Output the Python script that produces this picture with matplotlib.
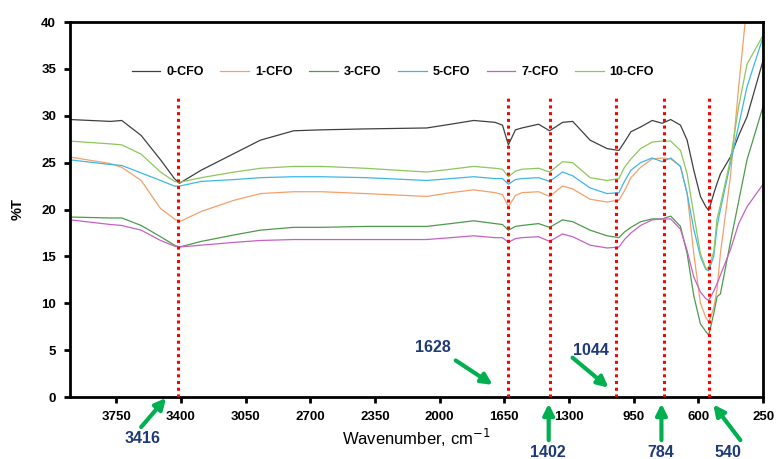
import matplotlib.pyplot as plt

plt.rcParams['font.family'] = ['Liberation Sans', 'DejaVu Sans']

wavenumber = [4000, 3780, 3720, 3615, 3510, 3435, 3408, 3290, 3110, 2970, 2790, 2640,
              2400, 2070, 1940, 1816, 1700, 1660, 1628, 1590, 1555, 1465, 1405, 1335,
              1280, 1186, 1094, 1030, 1000, 965, 913, 850, 796, 750, 697, 661, 625,
              589, 560, 544, 517, 499, 481, 427, 382, 337, 250]

cfo_0 = [29.6, 29.4, 29.5, 27.9, 25.3, 23.3, 22.8, 24.2, 26.0, 27.4, 28.4, 28.5,
         28.6, 28.7, 29.1, 29.5, 29.3, 29.0, 26.9, 28.5, 28.7, 29.1, 28.4, 29.3,
         29.4, 27.4, 26.5, 26.3, 27.2, 28.3, 28.8, 29.5, 29.2, 29.6, 29.0, 27.4, 24.2,
         21.4, 20.3, 19.9, 21.7, 22.8, 23.8, 25.6, 27.9, 29.9, 35.9]
cfo_1 = [25.6, 24.9, 24.5, 23.1, 20.1, 19.0, 18.7, 19.8, 21.0, 21.7, 21.9, 21.9,
         21.7, 21.4, 21.8, 22.1, 21.8, 21.6, 20.3, 21.5, 21.8, 21.9, 21.4, 22.5,
         22.2, 21.1, 20.8, 21.0, 22.0, 23.4, 24.5, 25.4, 25.5, 25.4, 24.6, 21.7, 15.3,
         10.0, 8.5, 8.0, 9.5, 11.5, 15.3, 23.5, 33.1, 42.0, 59.0]
cfo_3 = [19.2, 19.1, 19.1, 18.3, 17.1, 16.2, 16.0, 16.6, 17.3, 17.8, 18.1, 18.1,
         18.2, 18.2, 18.5, 18.8, 18.5, 18.4, 17.8, 18.2, 18.3, 18.5, 18.1, 18.9,
         18.7, 17.8, 17.2, 17.0, 17.6, 18.1, 18.7, 19.0, 19.0, 19.3, 18.2, 15.3, 10.8,
         7.8, 7.0, 6.6, 8.9, 10.7, 11.0, 16.5, 20.9, 25.3, 31.0]
cfo_5 = [25.3, 24.8, 24.7, 23.9, 23.1, 22.5, 22.5, 23.0, 23.2, 23.4, 23.5, 23.5,
         23.4, 23.1, 23.3, 23.5, 23.3, 23.3, 22.7, 23.2, 23.3, 23.4, 23.0, 24.0,
         23.6, 22.3, 21.7, 21.8, 23.0, 24.2, 25.0, 25.5, 25.1, 25.5, 24.6, 21.7, 17.9,
         15.0, 13.6, 13.5, 15.0, 18.2, 20.0, 24.9, 29.0, 33.1, 38.4]
cfo_7 = [18.9, 18.4, 18.3, 17.8, 16.7, 16.1, 16.0, 16.2, 16.5, 16.7, 16.8, 16.8,
         16.8, 16.8, 17.0, 17.2, 17.0, 17.0, 16.5, 16.9, 17.0, 17.1, 16.6, 17.4,
         17.1, 16.2, 15.9, 16.0, 16.8, 17.5, 18.3, 18.9, 19.0, 19.0, 17.9, 15.6, 12.8,
         11.2, 10.5, 10.3, 11.3, 12.1, 13.0, 15.7, 18.5, 20.3, 22.7]
cfo_10 = [27.3, 27.0, 26.9, 25.9, 24.0, 23.0, 22.9, 23.4, 24.0, 24.4, 24.6, 24.6,
          24.4, 24.0, 24.3, 24.6, 24.4, 24.3, 23.5, 24.1, 24.3, 24.4, 24.0, 25.1,
          25.0, 23.4, 23.1, 23.3, 24.5, 25.4, 26.5, 27.2, 27.3, 27.3, 26.3, 23.8, 19.5,
          15.3, 13.7, 13.8, 15.5, 19.0, 20.5, 25.3, 31.0, 35.5, 38.6]

series_labels = ['0-CFO', '1-CFO', '3-CFO', '5-CFO', '7-CFO', '10-CFO']
series_colors = ['#404040', '#f4a06a', '#4e9a4e', '#3db7e9', '#c462c4', '#8cc85a']

peaks = [3416, 1628, 1402, 1044, 784, 540]
# (tip, tail, label) positions for the green arrows, data coords
peak_arrows = {
    3416: ((3480, -0.1), (3615, -3.2), (3610, -4.4)),
    1628: ((1713, 1.3), (1913, 3.9), (2037, 5.3)),
    1402: ((1410, -0.7), (1410, -4.6), (1415, -5.9)),
    1044: ((1086, 1.0), (1281, 4.2), (1183, 5.0)),
    784: ((800, -0.7), (800, -4.6), (805, -5.9)),
    540: ((519, -0.8), (373, -4.6), (438, -5.9)),
}
x_ticks = [3750, 3400, 3050, 2700, 2350, 2000, 1650, 1300, 950, 600, 250]


def main():
    fig = plt.figure(figsize=(7.77, 4.59), dpi=100)
    ax = fig.add_axes([0.0901, 0.135, 0.892, 0.817])

    all_series = [cfo_0, cfo_1, cfo_3, cfo_5, cfo_7, cfo_10]
    for values, label, color in zip(all_series, series_labels, series_colors):
        ax.plot(wavenumber, values, color=color, lw=0.9, label=label)

    ax.vlines(peaks, 0, 32, colors='#ff0000', lw=2.2, linestyles=(0, (1, 1.2)), zorder=3)

    for p in peaks:
        tip, tail, txt = peak_arrows[p]
        ax.annotate('', xy=tip, xytext=tail, annotation_clip=False,
                    arrowprops=dict(arrowstyle='-|>', color='#00b050', lw=3,
                                    mutation_scale=16, shrinkA=0, shrinkB=0))
        ax.text(txt[0], txt[1], str(p), color='#1f3a7a', fontsize=11.5,
                fontweight='bold', ha='center', va='center', clip_on=False)

    ax.set_xlim(4000, 250)
    ax.set_ylim(0, 40)
    ax.set_xticks(x_ticks)
    ax.set_yticks(range(0, 41, 5))
    ax.tick_params(direction='out', length=4, width=2, labelsize=9.5, pad=6)
    for lab in ax.get_xticklabels() + ax.get_yticklabels():
        lab.set_fontweight('bold')
    for s in ax.spines.values():
        s.set_linewidth(2)

    ax.set_xlabel('Wavenumber, cm$^{-1}$', fontsize=12, labelpad=3)
    ax.set_ylabel('%T', fontsize=10.5, fontweight='bold', labelpad=12)

    ax.legend(loc='center', bbox_to_anchor=(0.466, 0.867), ncol=6, frameon=False,
              handlelength=2.3, handletextpad=0.45, columnspacing=1.35,
              prop={'weight': 'bold', 'size': 9})

    fig.savefig('out.png', dpi=100)


if __name__ == "__main__":
    main()
